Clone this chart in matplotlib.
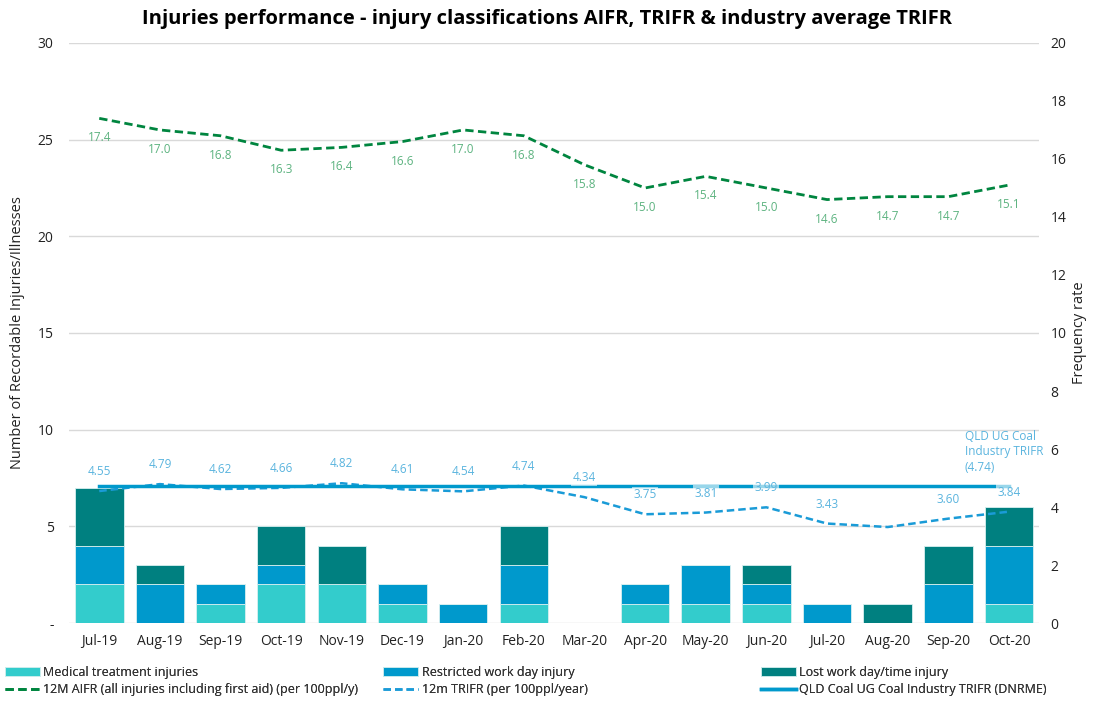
import matplotlib.pyplot as plt
import numpy as np

plt.rcParams["font.family"] = ["Open Sans", "DejaVu Sans"]

months = ["Jul-19", "Aug-19", "Sep-19", "Oct-19", "Nov-19", "Dec-19", "Jan-20", "Feb-20",
          "Mar-20", "Apr-20", "May-20", "Jun-20", "Jul-20", "Aug-20", "Sep-20", "Oct-20"]
medical = [2, 0, 1, 2, 2, 1, 0, 1, 0, 1, 1, 1, 0, 0, 0, 1]
restricted = [2, 2, 1, 1, 0, 1, 1, 2, 0, 1, 2, 1, 1, 0, 2, 3]
lost = [3, 1, 0, 2, 2, 0, 0, 2, 0, 0, 0, 1, 0, 1, 2, 2]
aifr = [17.4, 17.0, 16.8, 16.3, 16.4, 16.6, 17.0, 16.8, 15.8, 15.0, 15.4, 15.0, 14.6, 14.7, 14.7, 15.1]
trifr = [4.55, 4.79, 4.62, 4.66, 4.82, 4.61, 4.54, 4.74, 4.34, 3.75, 3.81, 3.99, 3.43, 3.31, 3.60, 3.84]
trifr_labels = ["4.55", "4.79", "4.62", "4.66", "4.82", "4.61", "4.54", "4.74", "4.34", "3.75",
                "3.81", "3.99", "3.43", "", "3.60", "3.84"]
industry_trifr = 4.74

C_MED = "#33CCCC"
C_RES = "#0099CC"
C_LOST = "#008080"
C_AIFR = "#00853F"
C_TRIFR = "#1A9BD7"

fig = plt.figure(figsize=(10.94, 7.04), dpi=100)
ax = fig.add_axes([0.063, 0.115, 0.887, 0.824])
ax2 = ax.twinx()

x = np.arange(len(months))
w = 0.8
med = np.array(medical)
res = np.array(restricted)
lst = np.array(lost)
ax.bar(x, med, w, color=C_MED, edgecolor="#d8f0f0", linewidth=0.6, label="Medical treatment injuries", zorder=2)
ax.bar(x, res, w, bottom=med, color=C_RES, edgecolor="#d8f0f0", linewidth=0.6, label="Restricted work day injury", zorder=2)
ax.bar(x, lst, w, bottom=med + res, color=C_LOST, edgecolor="#d8f0f0", linewidth=0.6, label="Lost work day/time injury", zorder=2)

ax.set_ylim(0, 30)
ax.set_yticks(range(0, 31, 5))
ax.set_yticklabels(["-"] + [str(v) for v in range(5, 31, 5)])
ax.set_xlim(-0.5, len(months) - 0.5)
ax.set_xticks(x)
ax.set_xticklabels(months)
ax.grid(axis="y", color="#d9d9d9", linewidth=1, zorder=0)
ax.set_axisbelow(True)

ax2.plot(x, aifr, color=C_AIFR, linestyle=(0, (3, 1.6)), linewidth=2,
         label="12M AIFR (all injuries including first aid) (per 100ppl/y)", zorder=3)
ax2.plot(x, trifr, color=C_TRIFR, linestyle=(0, (3, 1.6)), linewidth=1.8,
         label="12m TRIFR (per 100ppl/year)", zorder=3)
ax2.plot(x, [industry_trifr] * len(x), color=C_RES, linewidth=2.5,
         label="QLD Coal UG Coal Industry TRIFR (DNRME)", zorder=3)
ax2.set_ylim(0, 20)
ax2.set_yticks(range(0, 21, 2))

for i, v in enumerate(aifr):
    ax2.annotate(f"{v:.1f}", (x[i], v), textcoords="offset points", xytext=(0, -14),
                 ha="center", va="center", fontsize=8.5, color="#5DB380", zorder=4)
for i, v in enumerate(trifr):
    if trifr_labels[i]:
        ax2.annotate(trifr_labels[i], (x[i], v), textcoords="offset points", xytext=(0, 14),
                     ha="center", va="center", fontsize=8.5, color="#5AB4DE", zorder=4,
                     bbox=dict(facecolor="white", alpha=0.6, edgecolor="none", pad=1))
ax2.text(14.27, 5.9, "QLD UG Coal\nIndustry TRIFR\n(4.74)", ha="left", va="center",
         fontsize=8.5, color="#5AB4DE", linespacing=1.25)

for a in (ax, ax2):
    for s in a.spines.values():
        s.set_visible(False)
    a.tick_params(length=0, labelsize=10, colors="#222222", pad=8)
ax.tick_params(axis="y", pad=11)
ax.tick_params(axis="x", pad=8)
ax.set_ylabel("Number of Recordable Injuries/Illnesses", fontsize=10.5, color="#222222", labelpad=9)
ax2.set_ylabel("Frequency rate", fontsize=10.5, color="#222222")

fig.suptitle("Injuries performance - injury classifications AIFR, TRIFR & industry average TRIFR",
             fontsize=14.5, fontweight="bold", y=0.987)

h1, l1 = ax.get_legend_handles_labels()
h2, l2 = ax2.get_legend_handles_labels()
legend_x = [-0.006, 0.340, 0.685]
for k in range(3):
    leg = fig.legend([h1[k], h2[k]], [l1[k], l2[k]], loc="lower left",
                     bbox_to_anchor=(legend_x[k], -0.005), frameon=False, fontsize=9,
                     handlelength=2.8, handletextpad=0.3, labelspacing=0.35,
                     labelcolor="#333333")
    fig.add_artist(leg)

fig.savefig("out.png", dpi=100)
